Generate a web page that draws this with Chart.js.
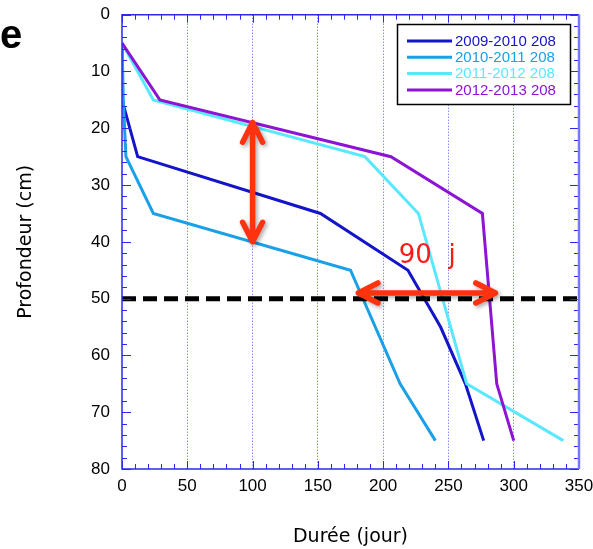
<!DOCTYPE html>
<html>
<head>
<meta charset="utf-8">
<script src="https://cdn.jsdelivr.net/npm/chart.js@4.4.1/dist/chart.umd.min.js"></script>
<style>
html, body { margin: 0; padding: 0; background: #fff; }
#wrap { position: relative; width: 593px; height: 549px; }
</style>
</head>
<body>
<div id="wrap"><canvas id="canvasDoThi"></canvas></div>
<script>
// Donnees
var nomsSeries = ["2009-2010 208", "2010-2011 208", "2011-2012 208", "2012-2013 208"];
var couleurs = ["#1414c8", "#1aa0e6", "#5ae8ff", "#8c14d2"];

var prof0910 = [5, 15, 25, 35, 45, 55, 65, 75];
var duree0910 = [0, 0, 12, 152, 219, 244, 263, 277];
var prof1011 = [5, 15, 25, 35, 45, 65, 75];
var duree1011 = [0, 1, 3, 24, 175, 213, 240];
var prof1112 = [5, 15, 25, 35, 65, 75];
var duree1112 = [0, 24, 186, 227, 264, 338];
var prof1213 = [5, 15, 25, 35, 65, 75];
var duree1213 = [0, 29, 206, 276, 287, 300];

var ticksX = [0, 50, 100, 150, 200, 250, 300, 350];
var ticksY = [0, 10, 20, 30, 40, 50, 60, 70, 80];

// annotations
var seuilProf = 50;
var flecheVert = [100, 19, 40];     // x, y haut, y bas
var flecheHoriz = [181, 286, 49];   // x gauche, x droite, y
var texte90 = ["90  j", 212, 43.7];

function points(xs, ys) {
    return xs.map(function (x, i) { return { x: x, y: ys[i] }; });
}

function serie(i, xs, ys) {
    return {
        label: nomsSeries[i],
        data: points(xs, ys),
        borderColor: couleurs[i],
        backgroundColor: couleurs[i],
        borderWidth: 3,
        showLine: true,
        pointRadius: 0,
        tension: 0,
        order: 4 - i
    };
}

function fleche(ctx, x1, y1, x2, y2) {
    var a = Math.atan2(y2 - y1, x2 - x1);
    var L = 22, b = 27 * Math.PI / 180;
    ctx.beginPath();
    ctx.moveTo(x1, y1); ctx.lineTo(x2, y2);
    // pointe 2
    ctx.moveTo(x2 - L * Math.cos(a - b), y2 - L * Math.sin(a - b));
    ctx.lineTo(x2, y2);
    ctx.lineTo(x2 - L * Math.cos(a + b), y2 - L * Math.sin(a + b));
    // pointe 1
    ctx.moveTo(x1 + L * Math.cos(a - b), y1 + L * Math.sin(a - b));
    ctx.lineTo(x1, y1);
    ctx.lineTo(x1 + L * Math.cos(a + b), y1 + L * Math.sin(a + b));
    ctx.stroke();
}

var pluginDecor = {
    id: 'decor',
    afterDraw: function (chart) {
        var ctx = chart.ctx, ca = chart.chartArea;
        var sx = chart.scales.x, sy = chart.scales.y;
        ctx.save();

        // petites graduations a l'interieur
        ctx.strokeStyle = "#2a2aee";
        ctx.lineWidth = 1;
        ctx.beginPath();
        for (var v = 0; v <= 350; v += 10) {
            var px = Math.round(sx.getPixelForValue(v)) + 0.5;
            var len = v % 50 == 0 ? 8 : 5;
            ctx.moveTo(px, ca.bottom); ctx.lineTo(px, ca.bottom - len);
            ctx.moveTo(px, ca.top); ctx.lineTo(px, ca.top + len);
        }
        for (var w = 0; w <= 80; w += 2) {
            var py = Math.round(sy.getPixelForValue(w)) + 0.5;
            var len2 = w % 10 == 0 ? 9 : 5;
            ctx.moveTo(ca.left, py); ctx.lineTo(ca.left + len2, py);
            ctx.moveTo(ca.right, py); ctx.lineTo(ca.right - len2, py);
        }
        ctx.stroke();

        // cadre
        ctx.lineWidth = 1.5;
        ctx.strokeStyle = "#2a2aee";
        ctx.beginPath();
        ctx.moveTo(ca.right, ca.top); ctx.lineTo(ca.left, ca.top);
        ctx.lineTo(ca.left, ca.bottom); ctx.lineTo(ca.right, ca.bottom);
        ctx.stroke();
        ctx.strokeStyle = "#7777ff";
        ctx.lineWidth = 2.5;
        ctx.beginPath();
        ctx.moveTo(ca.right, ca.top); ctx.lineTo(ca.right, ca.bottom);
        ctx.stroke();

        // legende
        var lx = 397.5, ly = 24.5;
        ctx.fillStyle = "#fff";
        ctx.fillRect(lx, ly, 173, 80);
        ctx.strokeStyle = "#000";
        ctx.lineWidth = 1.5;
        ctx.strokeRect(lx, ly, 173, 80);
        ctx.font = "15px 'Liberation Sans', Arial, sans-serif";
        ctx.textBaseline = "middle";
        ctx.textAlign = "left";
        for (var i = 0; i < nomsSeries.length; i++) {
            var yy = 41 + i * 16.3;
            ctx.strokeStyle = couleurs[i];
            ctx.lineWidth = 3;
            ctx.beginPath();
            ctx.moveTo(407, yy); ctx.lineTo(452, yy);
            ctx.stroke();
            ctx.fillStyle = couleurs[i];
            ctx.fillText(nomsSeries[i], 455, yy + 0.5);
        }

        // fleches rouges
        ctx.shadowColor = "rgba(0,0,0,0.35)";
        ctx.shadowBlur = 4;
        ctx.shadowOffsetX = 2;
        ctx.shadowOffsetY = 2;
        ctx.strokeStyle = "#ff3210";
        ctx.lineWidth = 5.5;
        ctx.lineCap = "round";
        ctx.lineJoin = "round";
        fleche(ctx, sx.getPixelForValue(flecheVert[0]), sy.getPixelForValue(flecheVert[1]),
            sx.getPixelForValue(flecheVert[0]), sy.getPixelForValue(flecheVert[2]));
        fleche(ctx, sx.getPixelForValue(flecheHoriz[0]), sy.getPixelForValue(flecheHoriz[2]),
            sx.getPixelForValue(flecheHoriz[1]), sy.getPixelForValue(flecheHoriz[2]));
        ctx.shadowColor = "rgba(0,0,0,0)";

        // texte 90 j
        ctx.fillStyle = "#ff1a1a";
        ctx.font = "26px 'DejaVu Sans', sans-serif";
        ctx.textBaseline = "alphabetic";
        ctx.fillText(texte90[0], sx.getPixelForValue(texte90[1]), sy.getPixelForValue(texte90[2]));

        // reste du titre de la diapo
        ctx.fillStyle = "#000";
        ctx.font = "bold 40px 'Liberation Sans Narrow', 'Liberation Sans', sans-serif";
        ctx.fillText("e", 0, 48);
        ctx.restore();
    }
};

function VeDoThi() {
    var datasets = [
        serie(0, duree0910, prof0910),
        serie(1, duree1011, prof1011),
        serie(2, duree1112, prof1112),
        serie(3, duree1213, prof1213),
        {
            label: "seuil",
            data: [{ x: ticksX[0], y: seuilProf }, { x: ticksX[ticksX.length - 1], y: seuilProf }],
            borderColor: "#000",
            borderWidth: 5,
            borderDash: [14, 7],
            showLine: true,
            pointRadius: 0,
            order: -1
        }
    ];

    new Chart("canvasDoThi", {
        type: "scatter",
        data: { datasets: datasets },
        options: {
            responsive: true,
            maintainAspectRatio: false,
            animation: false,
            layout: { padding: { top: 14.7, right: 14, left: 0, bottom: 0 } },
            plugins: {
                legend: { display: false },
                tooltip: { enabled: false }
            },
            scales: {
                x: {
                    type: "linear",
                    min: 0, max: 350,
                    afterBuildTicks: function (s) { s.ticks = ticksX.map(function (v) { return { value: v }; }); },
                    afterFit: function (s) {
                        s.height = 80;
                        s.paddingLeft = 0; s.paddingRight = 0;
                    },
                    ticks: {
                        color: "#000",
                        padding: 7,
                        maxRotation: 0,
                        font: { family: "'Liberation Sans', Arial, sans-serif", size: 17 }
                    },
                    grid: {
                        drawTicks: false,
                        lineWidth: 1,
                        color: function (c) {
                            if (!c.tick || c.tick.value == 0 || c.tick.value == 350) return "rgba(0,0,0,0)";
                            return "#5555ff";
                        }
                    },
                    border: { display: false, dash: [1, 2] },
                    title: {
                        display: true,
                        text: "Durée (jour)",
                        color: "#000",
                        font: { family: "'DejaVu Sans', sans-serif", size: 19 },
                        padding: { top: 0, bottom: 1 }
                    }
                },
                y: {
                    type: "linear",
                    min: 0, max: 80,
                    reverse: true,
                    afterBuildTicks: function (s) { s.ticks = ticksY.map(function (v) { return { value: v }; }); },
                    afterFit: function (s) {
                        s.width = 122;
                        s.paddingTop = 0; s.paddingBottom = 0;
                    },
                    ticks: {
                        color: "#000",
                        padding: 12,
                        font: { family: "'Liberation Sans', Arial, sans-serif", size: 17 }
                    },
                    grid: { display: false, drawTicks: false },
                    border: { display: false },
                    title: {
                        display: true,
                        text: "Profondeur (cm)",
                        color: "#000",
                        font: { family: "'DejaVu Sans', sans-serif", size: 19 },
                        padding: { top: 15, bottom: 0 }
                    }
                }
            }
        },
        plugins: [pluginDecor]
    });
}

VeDoThi();
</script>
</body>
</html>
